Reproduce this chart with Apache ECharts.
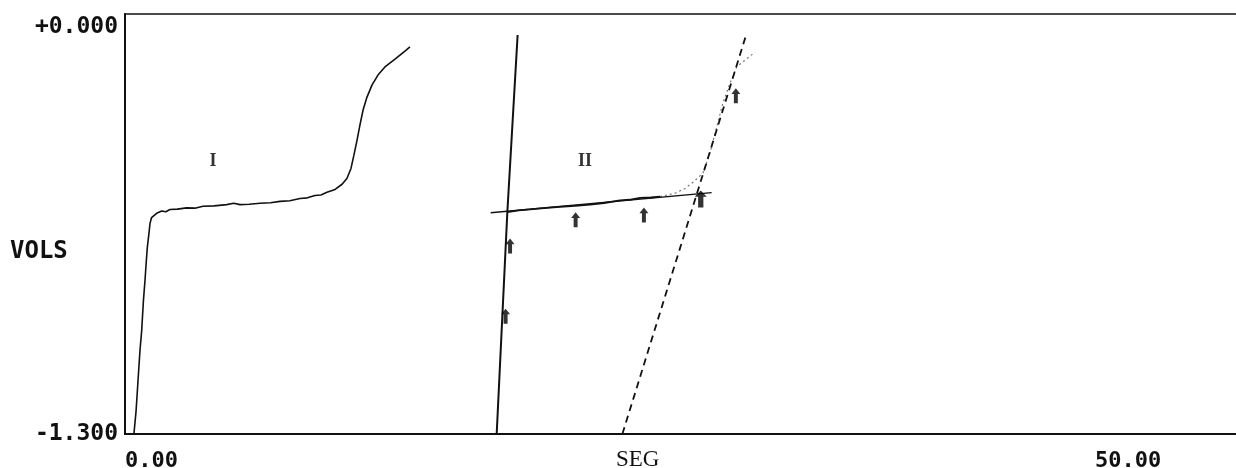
<!DOCTYPE html>
<html>
<head>
<meta charset="utf-8">
<script src="https://cdn.jsdelivr.net/npm/echarts@6/dist/echarts.min.js"></script>
<style>
  html, body { margin: 0; padding: 0; background: #fff; }
  #chart { width: 1236px; height: 468px; }
</style>
</head>
<body>
<div id="chart"></div>
<script>
// ---- data (x in SEG, y in volts) ----
const xTicks = [0, 50];
const xTickLabels = ['0.00', '50.00'];
const yTicks = [-1.3, 0];
const yTickLabels = ['-1.300', '+0.000'];
const xName = 'SEG';
const yName = 'VOLS';

// Titration curve I
const curveI = [
  [0.46, -1.300], [0.57, -1.229], [0.67, -1.136], [0.77, -1.043], [0.86, -0.980],
  [0.95, -0.887], [1.03, -0.825], [1.10, -0.763], [1.15, -0.723], [1.24, -0.676],
  [1.29, -0.648], [1.37, -0.630], [1.43, -0.624], [1.63, -0.617], [1.89, -0.610],
  [2.10, -0.612], [2.32, -0.605], [2.70, -0.604], [3.18, -0.600], [3.60, -0.601],
  [4.02, -0.595], [4.60, -0.594], [5.24, -0.590], [5.60, -0.586], [5.93, -0.590],
  [6.40, -0.589], [6.96, -0.586], [7.50, -0.584], [7.99, -0.580], [8.50, -0.578],
  [9.02, -0.571], [9.40, -0.569], [9.79, -0.562], [10.10, -0.560], [10.41, -0.552],
  [10.83, -0.543], [11.19, -0.527], [11.44, -0.509], [11.65, -0.478], [11.80, -0.437],
  [11.96, -0.391], [12.11, -0.344], [12.27, -0.298], [12.47, -0.258], [12.73, -0.220],
  [13.04, -0.189], [13.40, -0.164], [13.92, -0.140], [14.43, -0.115], [14.69, -0.102]
];

// Curve II: steep solid branch
const curveIISteep = [[19.16, -1.300], [19.71, -0.613], [20.24, -0.065]];
// Curve II: plateau (measured)
const curveIIPlateau = [
  [19.71, -0.613], [20.30, -0.608], [20.88, -0.605], [21.60, -0.601], [22.42, -0.597],
  [23.20, -0.594], [23.97, -0.590], [24.70, -0.585], [25.52, -0.577], [26.00, -0.575],
  [26.55, -0.569], [27.10, -0.568], [27.58, -0.565]
];
// Curve II: rising part (faint)
const curveIIRise = [
  [27.58, -0.565], [28.35, -0.555], [28.87, -0.540], [29.28, -0.521], [29.79, -0.493],
  [30.15, -0.431], [30.50, -0.351], [30.82, -0.276], [31.19, -0.214], [31.53, -0.164],
  [31.96, -0.143], [32.47, -0.118]
];
// Tangent lines
const tangentFlat = [[18.85, -0.615], [30.24, -0.553]];
const tangentSteep = [[25.64, -1.300], [32.05, -0.059]];
// Arrow marks
const arrowsSmall = [[19.85, -0.695], [19.62, -0.912], [23.23, -0.614], [26.75, -0.599], [31.49, -0.230]];
const arrowsBig = [[29.68, -0.546]];
// Curve labels
const curveLabels = [{ name: 'I', value: [4.54, -0.457] }, { name: 'II', value: [23.71, -0.457] }];

const chart = echarts.init(document.getElementById('chart'), null, { renderer: 'canvas' });
const ink = '#111';
const monoFont = '"DejaVu Sans Mono", "Liberation Mono", monospace';
const arrowPath = 'path://M5,0 L10,6 L7.2,6 L7.2,16 L2.8,16 L2.8,6 L0,6 Z';

chart.setOption({
  animation: false,
  backgroundColor: '#fff',
  grid: {
    left: 125, right: -5, top: 14, bottom: 34,
    containLabel: false, outerBoundsMode: 'none',
    show: true, borderColor: ink, borderWidth: 1.5, backgroundColor: 'transparent'
  },
  graphic: [
    { type: 'text', left: 10, top: 240, style: { text: yName, font: 'bold 24px ' + monoFont, fill: ink } },
    { type: 'text', left: 616, top: 448, style: { text: xName, font: '23px "Liberation Serif", serif', fill: ink } }
  ],
  xAxis: {
    type: 'value', min: 0, max: 57.53,
    axisLine: { show: true, onZero: false, lineStyle: { color: ink, width: 2 } },
    axisTick: { show: false },
    splitLine: { show: false },
    axisLabel: {
      customValues: xTicks,
      formatter: v => xTickLabels[xTicks.indexOf(v)] ?? '',
      align: 'left', margin: 16,
      fontFamily: monoFont, fontWeight: 'bold', fontSize: 22, color: ink
    }
  },
  yAxis: {
    type: 'value', min: -1.3, max: 0,
    axisLine: { show: true, onZero: false, lineStyle: { color: ink, width: 2 } },
    axisTick: { show: false },
    splitLine: { show: false },
    axisLabel: {
      customValues: yTicks,
      formatter: v => {
        const i = yTicks.findIndex(t => Math.abs(t - v) < 1e-9);
        const s = i >= 0 ? yTickLabels[i] : '';
        return Math.abs(v) < 1e-9 ? '\n' + s : s;
      },
      margin: 7, lineHeight: 26,
      fontFamily: monoFont, fontWeight: 'bold', fontSize: 23, color: ink
    }
  },
  series: [
    { type: 'line', data: curveI, showSymbol: false, lineStyle: { color: ink, width: 1.6 }, z: 3 },
    { type: 'line', data: curveIISteep, showSymbol: false, lineStyle: { color: ink, width: 2 }, z: 3 },
    { type: 'line', data: curveIIPlateau, showSymbol: false, lineStyle: { color: ink, width: 1.8 }, z: 3 },
    { type: 'line', data: curveIIRise, showSymbol: false, lineStyle: { color: '#777', width: 1.2, type: [2, 3] }, z: 2 },
    { type: 'line', data: tangentFlat, showSymbol: false, lineStyle: { color: ink, width: 1.4 }, z: 2 },
    { type: 'line', data: tangentSteep, showSymbol: false, lineStyle: { color: ink, width: 1.8, type: [7, 5] }, z: 2 },
    { type: 'scatter', data: arrowsSmall, symbol: arrowPath, symbolSize: [9, 15], symbolOffset: [0, 7.5], itemStyle: { color: '#000' }, z: 4 },
    { type: 'scatter', data: arrowsBig, symbol: arrowPath, symbolSize: [12, 17], symbolOffset: [0, 8.5], itemStyle: { color: '#000' }, z: 4 },
    {
      type: 'scatter', data: curveLabels, symbolSize: 0, z: 5,
      label: {
        show: true, position: 'inside', formatter: p => p.name,
        fontFamily: '"Liberation Serif", serif', fontWeight: 'bold', fontSize: 18, color: '#000'
      }
    }
  ]
});
</script>
</body>
</html>
